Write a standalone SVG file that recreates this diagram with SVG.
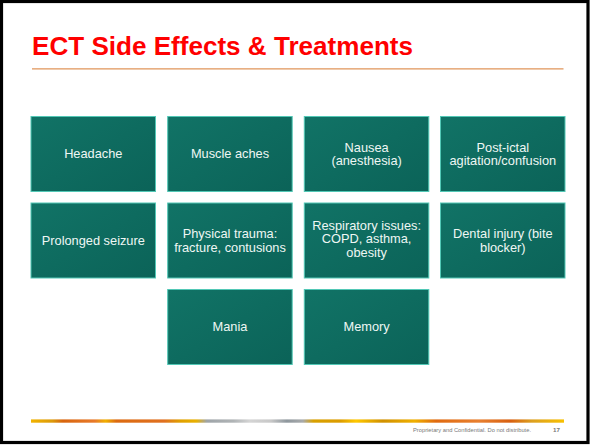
<svg xmlns="http://www.w3.org/2000/svg" width="591" height="445" viewBox="0 0 591 445">
  <defs>
    <linearGradient id="tile" x1="0" y1="0" x2="1" y2="1">
      <stop offset="0" stop-color="#117366"/>
      <stop offset="1" stop-color="#0b6358"/>
    </linearGradient>
    <linearGradient id="band" x1="31" y1="0" x2="564" y2="0" gradientUnits="userSpaceOnUse">
      <stop offset="0" stop-color="#f2b400"/>
      <stop offset="0.04" stop-color="#dc9a0a"/>
      <stop offset="0.06" stop-color="#d8640e"/>
      <stop offset="0.12" stop-color="#e87a2a"/>
      <stop offset="0.14" stop-color="#f0b000"/>
      <stop offset="0.16" stop-color="#dc6a10"/>
      <stop offset="0.25" stop-color="#e07020"/>
      <stop offset="0.28" stop-color="#e0a000"/>
      <stop offset="0.31" stop-color="#e8b000"/>
      <stop offset="0.33" stop-color="#9ea4a8"/>
      <stop offset="0.38" stop-color="#b0b4b6"/>
      <stop offset="0.41" stop-color="#d4d4d4"/>
      <stop offset="0.45" stop-color="#c8c8c8"/>
      <stop offset="0.48" stop-color="#8e979d"/>
      <stop offset="0.51" stop-color="#a8aaab"/>
      <stop offset="0.53" stop-color="#d8a000"/>
      <stop offset="0.58" stop-color="#dc9c00"/>
      <stop offset="0.61" stop-color="#ffc800"/>
      <stop offset="0.66" stop-color="#d09000"/>
      <stop offset="0.72" stop-color="#f0b000"/>
      <stop offset="0.76" stop-color="#e06a10"/>
      <stop offset="0.84" stop-color="#e88030"/>
      <stop offset="0.9" stop-color="#d86010"/>
      <stop offset="0.94" stop-color="#dca020"/>
      <stop offset="1" stop-color="#f8c000"/>
    </linearGradient>
  </defs>
  <style>
    .tile rect { fill: url(#tile); stroke: #52c8b6; stroke-width: 1; }
    .tile text { font-family: "Liberation Sans", Arial, sans-serif; font-size: 12.8px; fill: #eef7f4; text-anchor: middle; }
    .title { font-family: "Liberation Sans", Arial, sans-serif; font-weight: bold; font-size: 25px; fill: #ff0000; }
    .foot { font-family: "Liberation Sans", Arial, sans-serif; fill: #7a7a7a; }
  </style>

  <!-- page -->
  <rect x="0" y="0" width="591" height="445" fill="#ffffff"/>
  <rect x="1.5" y="1.5" width="586.5" height="441" fill="none" stroke="#000000" stroke-width="3.2"/>

  <!-- heading -->
  <text class="title" x="32" y="54.5" textLength="381" lengthAdjust="spacingAndGlyphs">ECT Side Effects &amp; Treatments</text>
  <line x1="32" y1="68.8" x2="563.5" y2="68.8" stroke="#e0955a" stroke-width="1.2"/>

  <!-- row 1 -->
  <g id="headache" class="tile">
    <rect x="31" y="116.5" width="124.5" height="75"/>
    <text x="93.3" y="158.4">Headache</text>
  </g>
  <g id="muscle-aches" class="tile">
    <rect x="167.7" y="116.5" width="124.5" height="75"/>
    <text x="230" y="158.4">Muscle aches</text>
  </g>
  <g id="nausea" class="tile">
    <rect x="304.3" y="116.5" width="124.5" height="75"/>
    <text x="366.6" y="151.8">Nausea<tspan x="366.6" dy="13.3">(anesthesia)</tspan></text>
  </g>
  <g id="post-ictal" class="tile">
    <rect x="440.5" y="116.5" width="124.5" height="75"/>
    <text x="502.8" y="151.8">Post-ictal<tspan x="502.8" dy="13.3">agitation/confusion</tspan></text>
  </g>

  <!-- row 2 -->
  <g id="prolonged-seizure" class="tile">
    <rect x="31" y="203" width="124.5" height="75"/>
    <text x="93.3" y="244.8">Prolonged seizure</text>
  </g>
  <g id="physical-trauma" class="tile">
    <rect x="167.7" y="203" width="124.5" height="75"/>
    <text x="230" y="238.2">Physical trauma:<tspan x="230" dy="13.3">fracture, contusions</tspan></text>
  </g>
  <g id="respiratory" class="tile">
    <rect x="304.3" y="203" width="124.5" height="75"/>
    <text x="366.6" y="230">Respiratory issues:<tspan x="366.6" dy="13.3">COPD, asthma,</tspan><tspan x="366.6" dy="13.3">obesity</tspan></text>
  </g>
  <g id="dental-injury" class="tile">
    <rect x="440.5" y="203" width="124.5" height="75"/>
    <text x="502.8" y="238.2">Dental injury (bite<tspan x="502.8" dy="13.3">blocker)</tspan></text>
  </g>

  <!-- row 3 -->
  <g id="mania" class="tile">
    <rect x="167.7" y="289.5" width="124.5" height="75"/>
    <text x="230" y="331.3">Mania</text>
  </g>
  <g id="memory" class="tile">
    <rect x="304.3" y="289.5" width="124.5" height="75"/>
    <text x="366.6" y="331.3">Memory</text>
  </g>

  <g id="connectors"></g>

  <!-- footer -->
  <rect x="31" y="419.4" width="533" height="3.3" fill="url(#band)"/>
  <text class="foot" x="531" y="432.3" font-size="5.2" text-anchor="end" textLength="118" lengthAdjust="spacingAndGlyphs">Proprietary and Confidential. Do not distribute.</text>
  <text class="foot" x="560" y="432.3" font-size="6.2" font-weight="bold" fill="#555555" text-anchor="end">17</text>
</svg>
